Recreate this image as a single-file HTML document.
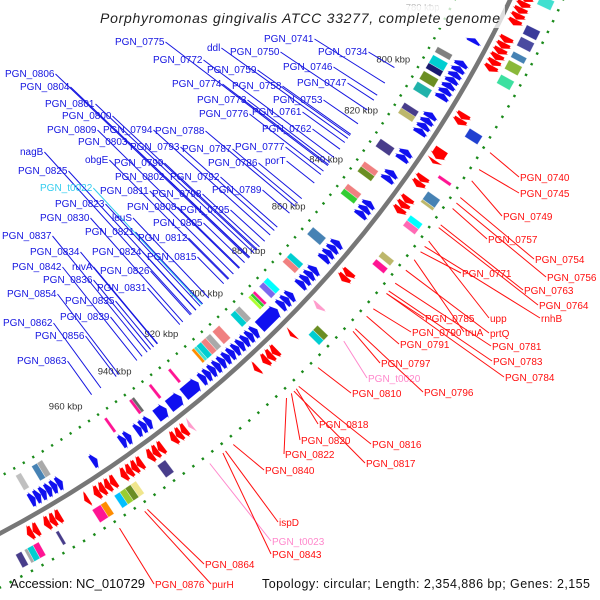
<!DOCTYPE html>
<html><head><meta charset="utf-8"><style>
html,body{margin:0;padding:0;background:#fff;width:600px;height:600px;overflow:hidden;}
svg{display:block;font-family:"Liberation Sans",sans-serif;overflow:hidden;}
</style></head><body>
<svg id="map" width="600" height="600" viewBox="0 0 600 600">
<g id="gDots"></g>
<g id="gFeat"></g>
<circle id="backbone" cx="-549" cy="-502" r="1172" fill="none" stroke="#777" stroke-width="4.5"></circle>
<g id="gTicks"></g>
<g id="gLabels"></g>
<rect x="95" y="6" width="410" height="22" fill="#fff" opacity="0.75"></rect>
<text x="300" y="23" text-anchor="middle" font-size="14" font-style="italic" fill="#222" textLength="400">Porphyromonas gingivalis ATCC 33277, complete genome</text>
<text x="10" y="588" font-size="13" fill="#111" textLength="135">Accession: NC_010729</text>
<text x="262" y="588" font-size="12.5" fill="#111" textLength="328">Topology: circular; Length: 2,354,886 bp; Genes: 2,155</text>
</svg>
<script>
// ---- data ----
const tickKbp = [780,800,820,840,860,880,900,920,940,960];
const fwdStart = [781,789,791,793,795,797,799,801,808,810,812,814,822,824,830,832,842,844,846,858,860,862,864,869,871,873,875,880,882,884,887,896,898,900,902,904,906,908,910,912,914,916,918,921,928,934,940,942,944,948,950,961,974,976,978,980,982,984];
const fwdLen   = [1.6,2,2,2,2,2,2,2,2,2,2,2,2,2,2,2,2,2,2,2,2,2,2,2,2,2,2,2,2,2,8,2,2,2,2,2,2,2,2,2,2,2,2,6,5,4,2,2,2,2,2,2,2,2,2,2,2,2];
const revStart = [762,764,766,768,770,776,778,780,782,784,786,803,805,816,820,826,828,834,836,838,863,865,877,889,896,898,900,904,931,933,935,937,942,944,946,950,952,954,956,960,962,964,966,970,980,982,984,988,990];
const revLen   = [2,2,2,2,2,2,2,2,2,2,2,2,2,3.5,1.2,2,2,2,2,2,2,2,1.5,1.2,2,2,2,1.5,1.2,2,2,2,2,2,2,2,2,2,2,2,2,2,2,1.5,2,2,2,2,2];
const revColor = ["red","red","red","red","red","red","red","red","red","red","red","red","red","red","red","red","red","red","red","red","red","red","#ff9ccc","red","red","red","red","red","#ff9ccc","red","red","red","red","red","red","red","red","red","red","red","red","red","red","red","red","red","red","red","red"];
const boxOutK = [760,770,774,779,782,787,806,823,829,832,838,840,852,855,882,884,944,955,957,959,961,966,968,983,990,992,994,996];
const boxOutLen = [3,3,3,2,3,3,3,1,3,1,2,2,2,2,2,2,3,2,2,2,2,2,3,1,2,2,1,2];
const boxOutColor = ["#40e0d0","#3a3a9a","#4a4aa0","#4682b4","#8ab83a","#3ce0a0","#2040d0","#ff1493","#4682b4","#bdb76b","#00ffff","#ff69b4","#bdb76b","#ff1493","#6b8e23","#00ced1","#483d8b","#f0e68c","#6b8e23","#9acd32","#00bfff","#ff8c00","#ff1493","#483d8b","#ff1493","#00ced1","#a9a9a9","#483d8b"];
const boxInK = [789,792,795,798,802,810,812,824,833,835,842,844,860,871,873,882,884,888,889,890,895,897,904,908,910,912,914,915,925,933,940,941,951,976,978,984];
const boxInLen = [2,3,2,3,3,3,2,3,2,2,2,2,3,2,2,2,2,1,1,1,2,2,3,2,2,2,1,1,1,1,2,1,1,2,2,2];
const boxInColor = ["#808080","#00ced1","#191970","#6b8e23","#20b2aa","#483d8b","#bdb76b","#483d8b","#f08080","#6b8e23","#f08080","#32cd32","#4682b4","#00ced1","#f08080","#00ffff","#7b68ee","#ff1493","#32cd32","#adff2f","#a9a9a9","#00ced1","#f08080","#a9a9a9","#f08080","#00ced1","#40e0d0","#ff8c00","#ff1493","#ff1493","#696969","#ff1493","#ff1493","#a9a9a9","#4682b4","#c0c0c0"];
const blueText = ["PGN_0775","ddl","PGN_0741","PGN_0750","PGN_0734","PGN_0772","PGN_0759","PGN_0746","PGN_0806","PGN_0758","PGN_0747","PGN_0804","PGN_0774","PGN_0753","PGN_0773","PGN_0801","PGN_0776","PGN_0761","PGN_0800","PGN_0762","PGN_0809","PGN_0794","PGN_0788","PGN_0803","PGN_0793","PGN_0787","PGN_0777","nagB","obgE","PGN_0799","PGN_0786","porT","PGN_0825","PGN_0802","PGN_0792","PGN_t0022","PGN_0811","PGN_0798","PGN_0789","PGN_0823","PGN_0808","PGN_0795","PGN_0830","leuS","PGN_0805","PGN_0837","PGN_0821","PGN_0812","PGN_0834","PGN_0824","PGN_0815","PGN_0842","ruvA","PGN_0826","PGN_0836","PGN_0831","PGN_0854","PGN_0835","PGN_0839","PGN_0862","PGN_0856","PGN_0863"];
const blueX = [115,207,264,230,318,153,207,283,5,232,297,20,172,273,197,45,199,252,62,262,47,103,155,78,130,182,235,20,85,114,208,265,18,115,170,40,100,152,212,55,127,180,40,112,153,2,85,138,30,92,147,12,72,100,43,97,7,65,60,3,35,17];
const blueY = [45,51,42,55,55,63,73,70,77,89,86,90,87,103,103,107,117,115,119,132,133,133,134,145,150,152,150,155,163,166,166,164,174,180,180,191,194,197,193,207,210,213,221,221,226,239,235,241,255,255,260,270,270,274,283,291,297,304,320,326,339,364];
const redText = ["PGN_0740","PGN_0745","PGN_0749","PGN_0757","PGN_0754","PGN_0756","PGN_0771","PGN_0763","PGN_0764","upp","rnhB","PGN_0785","prtQ","PGN_0790","truA","PGN_0781","PGN_0791","PGN_0783","PGN_0797","PGN_0784","PGN_t0020","PGN_0810","PGN_0796","PGN_0818","PGN_0820","PGN_0816","PGN_0822","PGN_0817","PGN_0840","ispD","PGN_t0023","PGN_0843","PGN_0864","PGN_0876","purH"];
const redKbp = [809,815,819,829,825,827,845,835,836,841,843,861,852,867,848,857,870,860,876,861,880,891,875,900,902,899,904,901,925,928,934,929,957,967,958];
const redX = [520,520,503,488,535,547,462,524,539,490,541,425,490,412,465,492,400,493,381,505,368,352,424,319,301,372,285,366,265,279,272,272,205,155,212];
const redY = [181,197,220,243,263,281,277,294,309,322,322,322,337,336,336,350,348,365,367,381,382,397,396,428,444,448,458,467,474,526,545,558,568,588,588];

// ---- geometry ----
const NS = "http://www.w3.org/2000/svg";
const CX = -549, CY = -502;
function ang(k){ return (30.8 + (k - 800) * 0.157) * Math.PI / 180; }
function P(k, r){ const a = ang(k); return [CX + r * Math.cos(a), CY + r * Math.sin(a)]; }
function pts(arr){ return arr.map(p => p[0].toFixed(1) + "," + p[1].toFixed(1)).join(" "); }
function mk(tag, parent){ const e = document.createElementNS(NS, tag); parent.appendChild(e); return e; }

const gDots = document.getElementById("gDots");
const gFeat = document.getElementById("gFeat");
const gTicks = document.getElementById("gTicks");
const gLabels = document.getElementById("gLabels");

[1122, 1220].forEach(r => {
  for (let k = 740; k < 1010; k += 3.6) {
    const l = mk("polyline", gDots);
    
    
    l.setAttribute("points", pts([P(k, r), P(k + 0.7, r)]));
    l.setAttribute("stroke", "#1a8a1a");
    l.setAttribute("stroke-width", "2.5");
  }
});

function box(k, len, r1, r2, color) {
  const p = mk("polygon", gFeat);
  
  
  p.setAttribute("points", pts([P(k, r1), P(k + len, r1), P(k + len, r2), P(k, r2)]));
  p.setAttribute("fill", color);
  p.setAttribute("stroke", "rgba(255,255,255,0.5)");
  p.setAttribute("stroke-width", "0.6");
}
boxInK.forEach((k, i) => box(k, boxInLen[i], 1129, 1146, boxInColor[i]));
boxOutK.forEach((k, i) => box(k, boxOutLen[i], 1198, 1213, boxOutColor[i]));

function arrow(k1, k2, r1, r2, dir, color) {
  const rm = (r1 + r2) / 2, head = Math.min(1.3, k2 - k1);
  let poly;
  if (dir < 0) {
    poly = [P(k1, rm), P(k1 + head, r2 + 2), P(k1 + head, r2), P(k2, r2), P(k2, r1), P(k1 + head, r1), P(k1 + head, r1 - 2)];
  } else {
    poly = [P(k2, rm), P(k2 - head, r2 + 2), P(k2 - head, r2), P(k1, r2), P(k1, r1), P(k2 - head, r1), P(k2 - head, r1 - 2)];
  }
  const p = mk("polygon", gFeat);
  p.setAttribute("points", pts(poly));
  p.setAttribute("fill", color);
  p.setAttribute("stroke", "rgba(255,255,255,0.35)");
  p.setAttribute("stroke-width", "0.5");
  return p;
}
fwdStart.forEach((k, i) => {
  const a = arrow(k, k + fwdLen[i], 1151, 1165, -1, "#1010f0");
  
  
});
revStart.forEach((k, i) => {
  const a = arrow(k, k + revLen[i], 1179, 1193, 1, revColor[i]);
  
  
});

tickKbp.forEach(k => {
  const p = P(k, 1097);
  const t = mk("text", gTicks);
  
  
  t.setAttribute("x", p[0].toFixed(1));
  t.setAttribute("y", (p[1] + 3).toFixed(1));
  t.setAttribute("text-anchor", "middle");
  t.setAttribute("font-size", "9.5");
  t.setAttribute("fill", k === 780 ? "#bbb" : "#333");
  t.textContent = k + " kbp";
});

// blue labels: leader runs radially outward from label end to r=1102
blueText.forEach((s, i) => {
  const col = s.indexOf("t0") >= 0 ? "#33ccee" : "#1515e0";
  const t = mk("text", gLabels);
  
  
  t.setAttribute("x", blueX[i]);
  t.setAttribute("y", blueY[i]);
  t.setAttribute("font-size", "10");
  t.setAttribute("fill", col);
  t.textContent = s;
  const w = t.getComputedTextLength();
  const x1 = blueX[i] + w + 1, y1 = blueY[i] - 3;
  const dx = x1 - CX, dy = y1 - CY, d = Math.hypot(dx, dy);
  const rEnd = 1102;
  const l = mk("line", gLabels);
  
  
  l.setAttribute("x1", x1.toFixed(1));
  l.setAttribute("y1", y1.toFixed(1));
  l.setAttribute("x2", (CX + dx / d * rEnd).toFixed(1));
  l.setAttribute("y2", (CY + dy / d * rEnd).toFixed(1));
  l.setAttribute("stroke", col);
  l.setAttribute("stroke-width", "1");
});

redText.forEach((s, i) => {
  const col = s.indexOf("t0") >= 0 ? "#ff88cc" : "#ff1010";
  const t = mk("text", gLabels);
  
  
  t.setAttribute("x", redX[i]);
  t.setAttribute("y", redY[i]);
  t.setAttribute("font-size", "10");
  t.setAttribute("fill", col);
  t.textContent = s;
  const st = P(redKbp[i], 1228);
  const l = mk("line", gLabels);
  
  
  l.setAttribute("x1", st[0].toFixed(1));
  l.setAttribute("y1", st[1].toFixed(1));
  l.setAttribute("x2", redX[i] - 1);
  l.setAttribute("y2", redY[i] - 4);
  l.setAttribute("stroke", col);
  l.setAttribute("stroke-width", "1");
});
</script>
</body></html>
